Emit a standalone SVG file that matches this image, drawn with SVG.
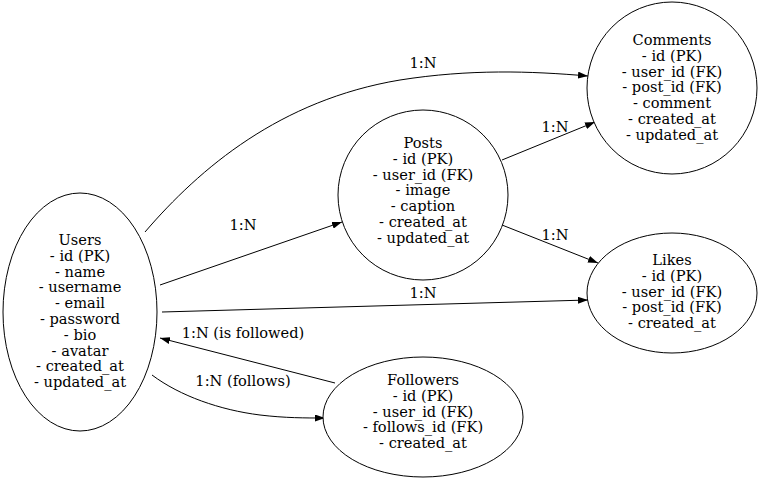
<svg xmlns="http://www.w3.org/2000/svg" width="761" height="480" viewBox="0 0 761 480">
<defs>
<marker id="arr" markerWidth="10" markerHeight="7" refX="10" refY="3.5" orient="auto" markerUnits="userSpaceOnUse">
<path d="M0,0 L10,3.5 L0,7 z" fill="#000"/>
</marker>
<style>
.node ellipse{fill:#fff;stroke:#000;stroke-width:1}
text{font-family:"DejaVu Serif","Liberation Serif",serif;font-size:14.6px;fill:#000;text-anchor:middle}
.edges path{fill:none;stroke:#000;stroke-width:1;marker-end:url(#arr)}
</style>
</defs>
<rect width="761" height="480" fill="#fff"/>
<g class="edges" id="connectors">
<path d="M145,232 C200,168 280,100 400,80 C470,69 530,71 588,76"/>
<text x="423" y="68">1:N</text>
<path d="M160,285 L342,222"/>
<text x="243" y="230">1:N</text>
<path d="M162,312 L588,300"/>
<text x="423" y="298">1:N</text>
<path d="M502,160 L595,122"/>
<text x="555" y="132">1:N</text>
<path d="M502,225 L598,263"/>
<text x="555" y="240">1:N</text>
<path d="M335,383 L160,338"/>
<text x="243" y="338">1:N (is followed)</text>
<path d="M152,375 C180,396 220,410 260,415 C285,418 305,418 325,418"/>
<text x="243" y="386">1:N (follows)</text>
</g>
<g class="node" id="users">
<ellipse cx="80" cy="312" rx="77" ry="119"/>
<text x="80" y="245">Users</text>
<text x="80" y="260.8">- id (PK)</text>
<text x="80" y="276.6">- name</text>
<text x="80" y="292.4">- username</text>
<text x="80" y="308.2">- email</text>
<text x="80" y="324">- password</text>
<text x="80" y="339.8">- bio</text>
<text x="80" y="355.6">- avatar</text>
<text x="80" y="371.4">- created_at</text>
<text x="80" y="387.2">- updated_at</text>
</g>
<g class="node" id="posts">
<ellipse cx="423" cy="195" rx="85" ry="85"/>
<text x="423" y="148">Posts</text>
<text x="423" y="163.8">- id (PK)</text>
<text x="423" y="179.6">- user_id (FK)</text>
<text x="423" y="195.4">- image</text>
<text x="423" y="211.2">- caption</text>
<text x="423" y="227">- created_at</text>
<text x="423" y="242.8">- updated_at</text>
</g>
<g class="node" id="comments">
<ellipse cx="672" cy="88" rx="85" ry="86"/>
<text x="672" y="45">Comments</text>
<text x="672" y="60.8">- id (PK)</text>
<text x="672" y="76.6">- user_id (FK)</text>
<text x="672" y="92.4">- post_id (FK)</text>
<text x="672" y="108.2">- comment</text>
<text x="672" y="124">- created_at</text>
<text x="672" y="139.8">- updated_at</text>
</g>
<g class="node" id="likes">
<ellipse cx="672" cy="293" rx="85" ry="60"/>
<text x="672" y="265">Likes</text>
<text x="672" y="280.8">- id (PK)</text>
<text x="672" y="296.6">- user_id (FK)</text>
<text x="672" y="312.4">- post_id (FK)</text>
<text x="672" y="328.2">- created_at</text>
</g>
<g class="node" id="followers">
<ellipse cx="423" cy="417" rx="100" ry="60"/>
<text x="423" y="385">Followers</text>
<text x="423" y="400.8">- id (PK)</text>
<text x="423" y="416.6">- user_id (FK)</text>
<text x="423" y="432.4">- follows_id (FK)</text>
<text x="423" y="448.2">- created_at</text>
</g>
</svg>
